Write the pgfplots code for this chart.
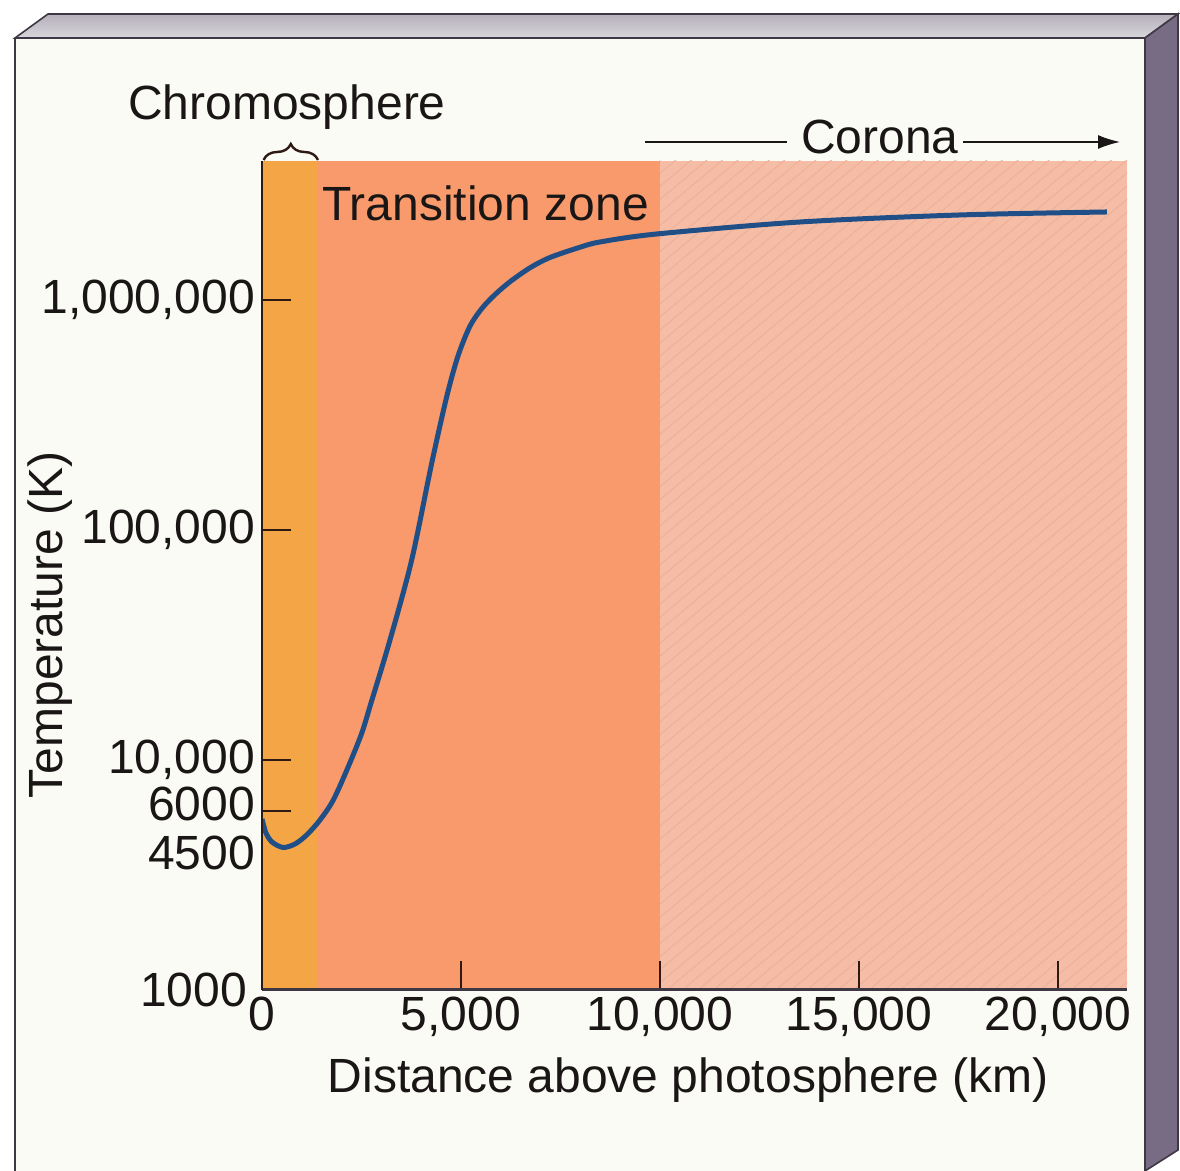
\documentclass[border=0pt]{standalone}
\usepackage{fontspec}
\setmainfont{Liberation Sans}
\usepackage{pgfplots}
\pgfplotsset{compat=1.18}
\usetikzlibrary{patterns.meta, decorations.pathreplacing, arrows.meta}
\definecolor{chromo}{HTML}{F4A647}
\definecolor{trans}{HTML}{F89A6B}
\definecolor{corona}{HTML}{F6BDA6}
\definecolor{hatch}{HTML}{EFAE96}
\definecolor{curvec}{HTML}{1F4F86}
\definecolor{board}{HTML}{FBFBF6}
\definecolor{topA}{HTML}{B4AFBA}
\definecolor{topB}{HTML}{D8D6DB}
\definecolor{sideC}{HTML}{776C84}
\definecolor{edgec}{HTML}{3E3845}
\definecolor{txt}{HTML}{1A1616}
\definecolor{tickc}{HTML}{2E1A12}
\begin{document}
\begin{tikzpicture}
\useasboundingbox (-131pt,-90.5pt) rectangle (459pt,495pt);
\fill[white] (-131pt,-90.5pt) rectangle (459pt,495pt);
% board face
\fill[board] (-123.5pt,476pt) -- (441.5pt,476pt) -- (441.5pt,-90.5pt) -- (-123.5pt,-90.5pt) -- cycle;
\draw[edgec, line width=1.2pt] (-123.5pt,-90.5pt) -- (-123.5pt,476pt);
% top face
\shadedraw[top color=topA, bottom color=topB, draw=edgec, line width=0.8pt] (-123.5pt,476pt) -- (-107pt,488pt) -- (458pt,488pt) -- (441.5pt,476pt) -- cycle;
% right face
\filldraw[fill=sideC, draw=edgec, line width=0.8pt] (441.5pt,476pt) -- (458pt,488pt) -- (458pt,-80pt) -- (441.5pt,-90.5pt) -- cycle;

\begin{axis}[
  at={(0pt,0pt)}, anchor=south west,
  scale only axis, width=432.5pt, height=414.5pt,
  ymode=log, xmin=0, xmax=21734, ymin=1000, ymax=4.02e6,
  enlargelimits=false,
  scaled x ticks=false,
  axis x line*=bottom, axis y line*=left,
  x axis line style={-, draw=edgec, line width=1.5pt},
  y axis line style={-, draw=tickc, line width=1.3pt},
  axis on top,
  tick align=inside,
  major tick length=14.5pt,
  tick style={line width=1pt, color=tickc},
  yminorticks=false, xminorticks=false,
  xtick={0,5000,10000,15000,20000},
  xticklabels={0,{5,000},{10,000},{15,000},{20,000}},
  ytick={1000,6000,10000,100000,1000000},
  yticklabels={\raisebox{-3pt}{1000}\kern4pt,\raisebox{7pt}{6000},{10,000},{100,000},{1,000,000}},
  extra y ticks={4500},
  extra y tick labels={4500},
  extra y tick style={major tick length=0pt, yticklabel style={yshift=-6.5pt}},
  tick label style={font=\fontsize{24}{28}\selectfont, text=txt},
  label style={font=\fontsize{24}{28}\selectfont, text=txt},
  xlabel={Distance above photosphere (km)},
  xlabel style={at={(axis description cs:0.4925,-0.1086)}, anchor=center},
  ylabel={Temperature (K)},
  ylabel style={at={(axis description cs:-0.2451,0.4403)}, anchor=center},
]
\addplot[draw=none, fill=chromo] coordinates {(0,1000) (1400,1000) (1400,4.02e6) (0,4.02e6)} -- cycle;
\addplot[draw=none, fill=trans] coordinates {(1400,1000) (10000,1000) (10000,4.02e6) (1400,4.02e6)} -- cycle;
\addplot[draw=none, fill=corona, postaction={pattern={Lines[angle=40,distance=5pt,line width=0.45pt]}, pattern color=hatch}] coordinates {(10000,1000) (21734,1000) (21734,4.02e6) (10000,4.02e6)} -- cycle;
\addplot[smooth, tension=0.5, line width=2.5pt, color=curvec] coordinates {
(0,5540) (100,4815) (251,4400) (528,4165) (829,4313) (1123,4720)
(1457,5483) (1792,6700) (2168,9352) (2505,13064) (2739,17690)
(3216,33240) (3761,74060) (4264,194980) (4641,379800) (4925,570800)
(5226,770000) (5528,920000) (5854,1055000) (6231,1200000) (6734,1380000)
(7236,1530000) (7990,1695000) (8493,1787000) (9917,1936000)
(13518,2183000) (17538,2342000) (21231,2413000)
};
\end{axis}

% annotations
\draw[tickc, line width=1.2pt, decorate, decoration={brace, amplitude=8pt}] (0.8pt,415pt) -- (28pt,415pt);
\node[text=txt, font=\fontsize{24}{28}\selectfont] at (12.5pt,441.5pt) {Chromosphere};
\node[text=txt, font=\fontsize{24}{28}\selectfont, anchor=west, inner sep=0pt] at (30pt,393.5pt) {Transition zone};
\node[text=txt, font=\fontsize{24}{28}\selectfont] at (309pt,426.5pt) {Corona};
\draw[txt, line width=0.8pt] (191.5pt,424pt) -- (262.5pt,424pt);
\draw[txt, line width=0.8pt, -{Latex[length=11pt,width=7pt]}] (350.5pt,424pt) -- (429pt,424pt);
\end{tikzpicture}
\end{document}
